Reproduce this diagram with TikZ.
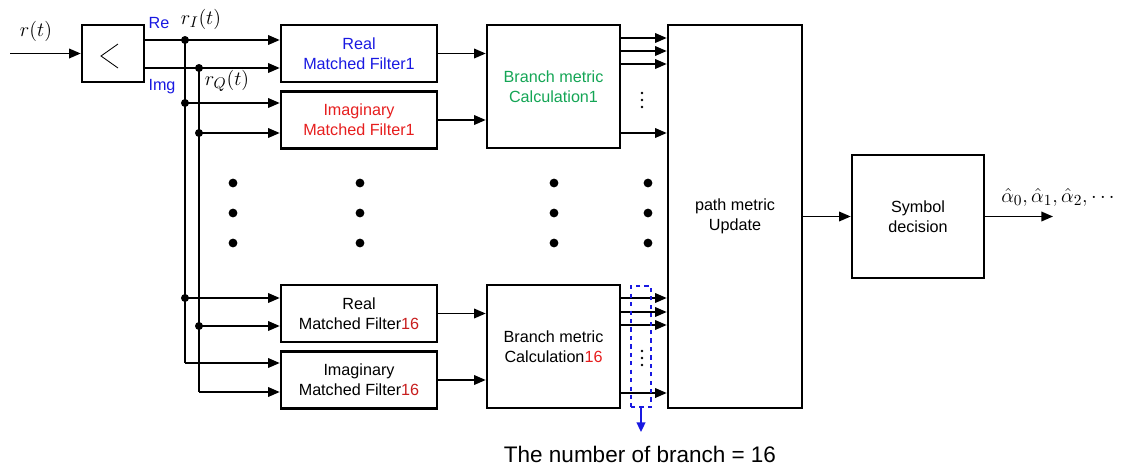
\documentclass[tikz,border=0pt]{standalone}
\usepackage{fontspec}
\setmainfont{Liberation Sans}
\usetikzlibrary{arrows.meta}
\definecolor{reblue}{RGB}{25,25,225}
\definecolor{imred}{RGB}{230,30,30}
\definecolor{bmgreen}{RGB}{20,165,85}
\definecolor{numred}{RGB}{200,30,30}

\begin{document}
\begin{tikzpicture}[x=0.025cm, y=-0.025cm,
    blk/.style={draw, line width=1.8pt, inner sep=0pt, align=center,
                font=\fontsize{11.5}{14}\selectfont},
    mfbox/.style={blk, minimum width=3.9cm, minimum height=1.425cm},
    bmbox/.style={blk, minimum width=3.325cm, minimum height=3.075cm},
    arr/.style={line width=1.1pt, -{Triangle[length=2.9mm,width=2.4mm]}},
    wire/.style={line width=1.1pt},
    jdot/.style={fill, radius=0.1cm},
    bigdot/.style={fill, radius=0.11cm}]
    \useasboundingbox (0,0) rectangle (1121,468);
    % Re / Img splitter
    \node[blk, minimum width=1.55cm, minimum height=1.425cm] (comp) at (113,53.5) {};
    \draw[line width=0.6pt] (118,44) -- (101,56) -- (118,68);
    \coordinate (rin) at (10,53.5);
    \draw[arr] (rin) -- (comp.west);
    \node[font=\fontsize{15}{18}\selectfont] (rt) at (36,31) {$r(t)$};
    \node[text=reblue, font=\fontsize{11.5}{14}\selectfont] (re) at (159,23) {Re};
    \node[text=reblue, font=\fontsize{11.5}{14}\selectfont] (im) at (162,87) {Img};
    % Matched filters
    \node[mfbox, text=reblue] (mfr1) at (359,53.5) {Real\\Matched Filter1};
    \node[mfbox, text=imred] (mfi1) at (359,120) {Imaginary\\Matched Filter1};
    \node[mfbox] (mfr16) at (359,313.5) {Real\\Matched Filter\textcolor{numred}{16}};
    \node[mfbox] (mfi16) at (359,380) {Imaginary\\Matched Filter\textcolor{numred}{16}};
    % Branch metric blocks
    \node[bmbox, text=bmgreen] (bm1) at (553.5,86.5) {Branch metric\\Calculation1};
    \node[bmbox] (bm16) at (553.5,346.5) {Branch metric\\Calculation\textcolor{imred}{16}};
    % Path metric and decision
    \node[blk, minimum width=3.35cm, minimum height=9.575cm] (pm) at (735,216.5) {path metric\\Update};
    \node[blk, minimum width=3.3cm, minimum height=3.075cm] (sym) at (918,216.5) {Symbol\\decision};
    % Junctions on the I and Q lines
    \coordinate (jI1) at (185,40);
    \coordinate (jQ1) at (199,68);
    \coordinate (jI2) at (185,103);
    \coordinate (jQ2) at (199,133);
    \coordinate (jI3) at (185,298);
    \coordinate (jQ3) at (199,326);
    \coordinate (jI4) at (185,363);
    \coordinate (jQ4) at (199,392);
    \node[font=\fontsize{15}{18}\selectfont] (rI) at (201,19) {$r_I(t)$};
    \node[font=\fontsize{15}{18}\selectfont] (rQ) at (227,81) {$r_Q(t)$};
    \draw[arr] (comp.east |- jI1) -- (mfr1.west |- jI1);
    \draw[arr] (comp.east |- jQ1) -- (mfr1.west |- jQ1);
    \draw[wire] (jI1) -- (jI4);
    \draw[wire] (jQ1) -- (jQ4);
    \draw[arr] (jI2) -- (mfi1.west |- jI2);
    \draw[arr] (jQ2) -- (mfi1.west |- jQ2);
    \draw[arr] (jI3) -- (mfr16.west |- jI3);
    \draw[arr] (jQ3) -- (mfr16.west |- jQ3);
    \draw[arr] (jI4) -- (mfi16.west |- jI4);
    \draw[arr] (jQ4) -- (mfi16.west |- jQ4);
    \foreach \j in {jI1,jQ1,jI2,jQ2,jI3,jQ3}
        \fill (\j) circle[jdot];
    % Filter outputs
    \draw[arr] (mfr1.east) -- (bm1.west |- mfr1.east);
    \draw[arr] (mfi1.east) -- (bm1.west |- mfi1.east);
    \draw[arr] (mfr16.east) -- (bm16.west |- mfr16.east);
    \draw[arr] (mfi16.east) -- (bm16.west |- mfi16.east);
    % Branch outputs
    \foreach \y in {38,51,64,133}
        \draw[arr] (bm1.east |- 0,\y) -- (pm.west |- 0,\y);
    \foreach \y in {298,312,325,393}
        \draw[arr] (bm16.east |- 0,\y) -- (pm.west |- 0,\y);
    \foreach \y in {93,100,107,351,358,365}
        \fill (642,\y) circle (0.035cm);
    % Rows of dots
    \foreach \x in {233,360,554,648}
        \foreach \y in {183,213,243}
            \fill (\x,\y) circle[bigdot];
    % Number of branches
    \node[draw=reblue, dashed, line width=1.1pt, minimum width=0.5cm, minimum height=3.025cm] (grp) at (641,346.5) {};
    \coordinate (tip) at (641,432);
    \draw[reblue, line width=1.1pt, -{Triangle[length=2.4mm,width=2.2mm]}] (grp.south) -- (tip);
    \node[font=\fontsize{16}{19}\selectfont] (nb) at (640,454) {The number of branch = 16};
    % Decision
    \draw[arr] (pm.east |- sym.west) -- (sym.west);
    \coordinate (out) at (1053,216.5);
    \draw[arr] (sym.east) -- (out);
    \node[font=\fontsize{15}{18}\selectfont] (alpha) at (1058,197) {$\hat{\alpha}_0,\hat{\alpha}_1,\hat{\alpha}_2,\cdots$};
\end{tikzpicture}
\end{document}
